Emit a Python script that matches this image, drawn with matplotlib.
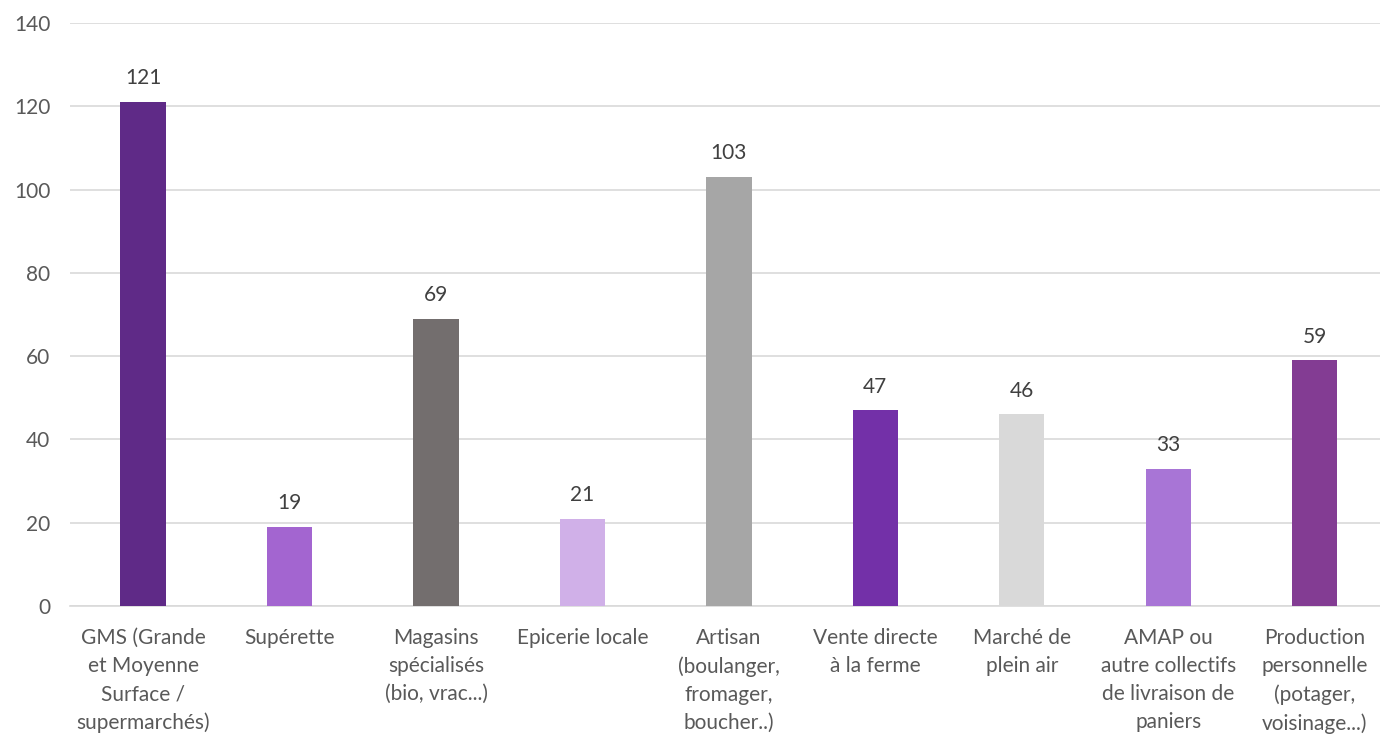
import matplotlib.pyplot as plt

categories = [
    "GMS (Grande\net Moyenne\nSurface /\nsupermarchés)",
    "Supérette",
    "Magasins\nspécialisés\n(bio, vrac...)",
    "Epicerie locale",
    "Artisan\n(boulanger,\nfromager,\nboucher..)",
    "Vente directe\nà la ferme",
    "Marché de\nplein air",
    "AMAP ou\nautre collectifs\nde livraison de\npaniers",
    "Production\npersonnelle\n(potager,\nvoisinage...)",
]
values = [121, 19, 69, 21, 103, 47, 46, 33, 59]
colors = ["#5F2A87", "#A365D0", "#736E6E", "#D0B0E8", "#A6A6A6",
          "#7330A8", "#D9D9D9", "#A875D6", "#833C93"]
yticks = [0, 20, 40, 60, 80, 100, 120, 140]

plt.rcParams['font.family'] = ['Lato', 'DejaVu Sans']
txt = "#595959"

fig = plt.figure(figsize=(13.8, 7.38), dpi=100)
ax = fig.add_axes([0.0507, 0.1789, 0.955, 0.79])

x = range(len(values))
ax.bar(x, values, width=0.31, color=colors, zorder=3)
for i, v in zip(x, values):
    ax.text(i, v + 3.3, str(v), ha='center', va='bottom', fontsize=15, color="#404040")

ax.set_xlim(-0.5, len(values) - 0.5)
ax.set_ylim(0, 140)
ax.set_yticks(yticks)
ax.yaxis.grid(True, color="#D9D9D9", linewidth=1.2, zorder=0)
ax.set_xticks(list(x))
ax.set_xticklabels(categories, fontsize=15.5, color=txt, linespacing=1.5, va='top')
ax.tick_params(axis='both', length=0, labelsize=15, colors=txt)
ax.tick_params(axis='x', pad=16)
ax.tick_params(axis='y', pad=14)
for s in ['top', 'right', 'left']:
    ax.spines[s].set_visible(False)
ax.spines['bottom'].set_color("#D9D9D9")
ax.spines['bottom'].set_linewidth(1.2)

fig.savefig("out.png", dpi=100)
